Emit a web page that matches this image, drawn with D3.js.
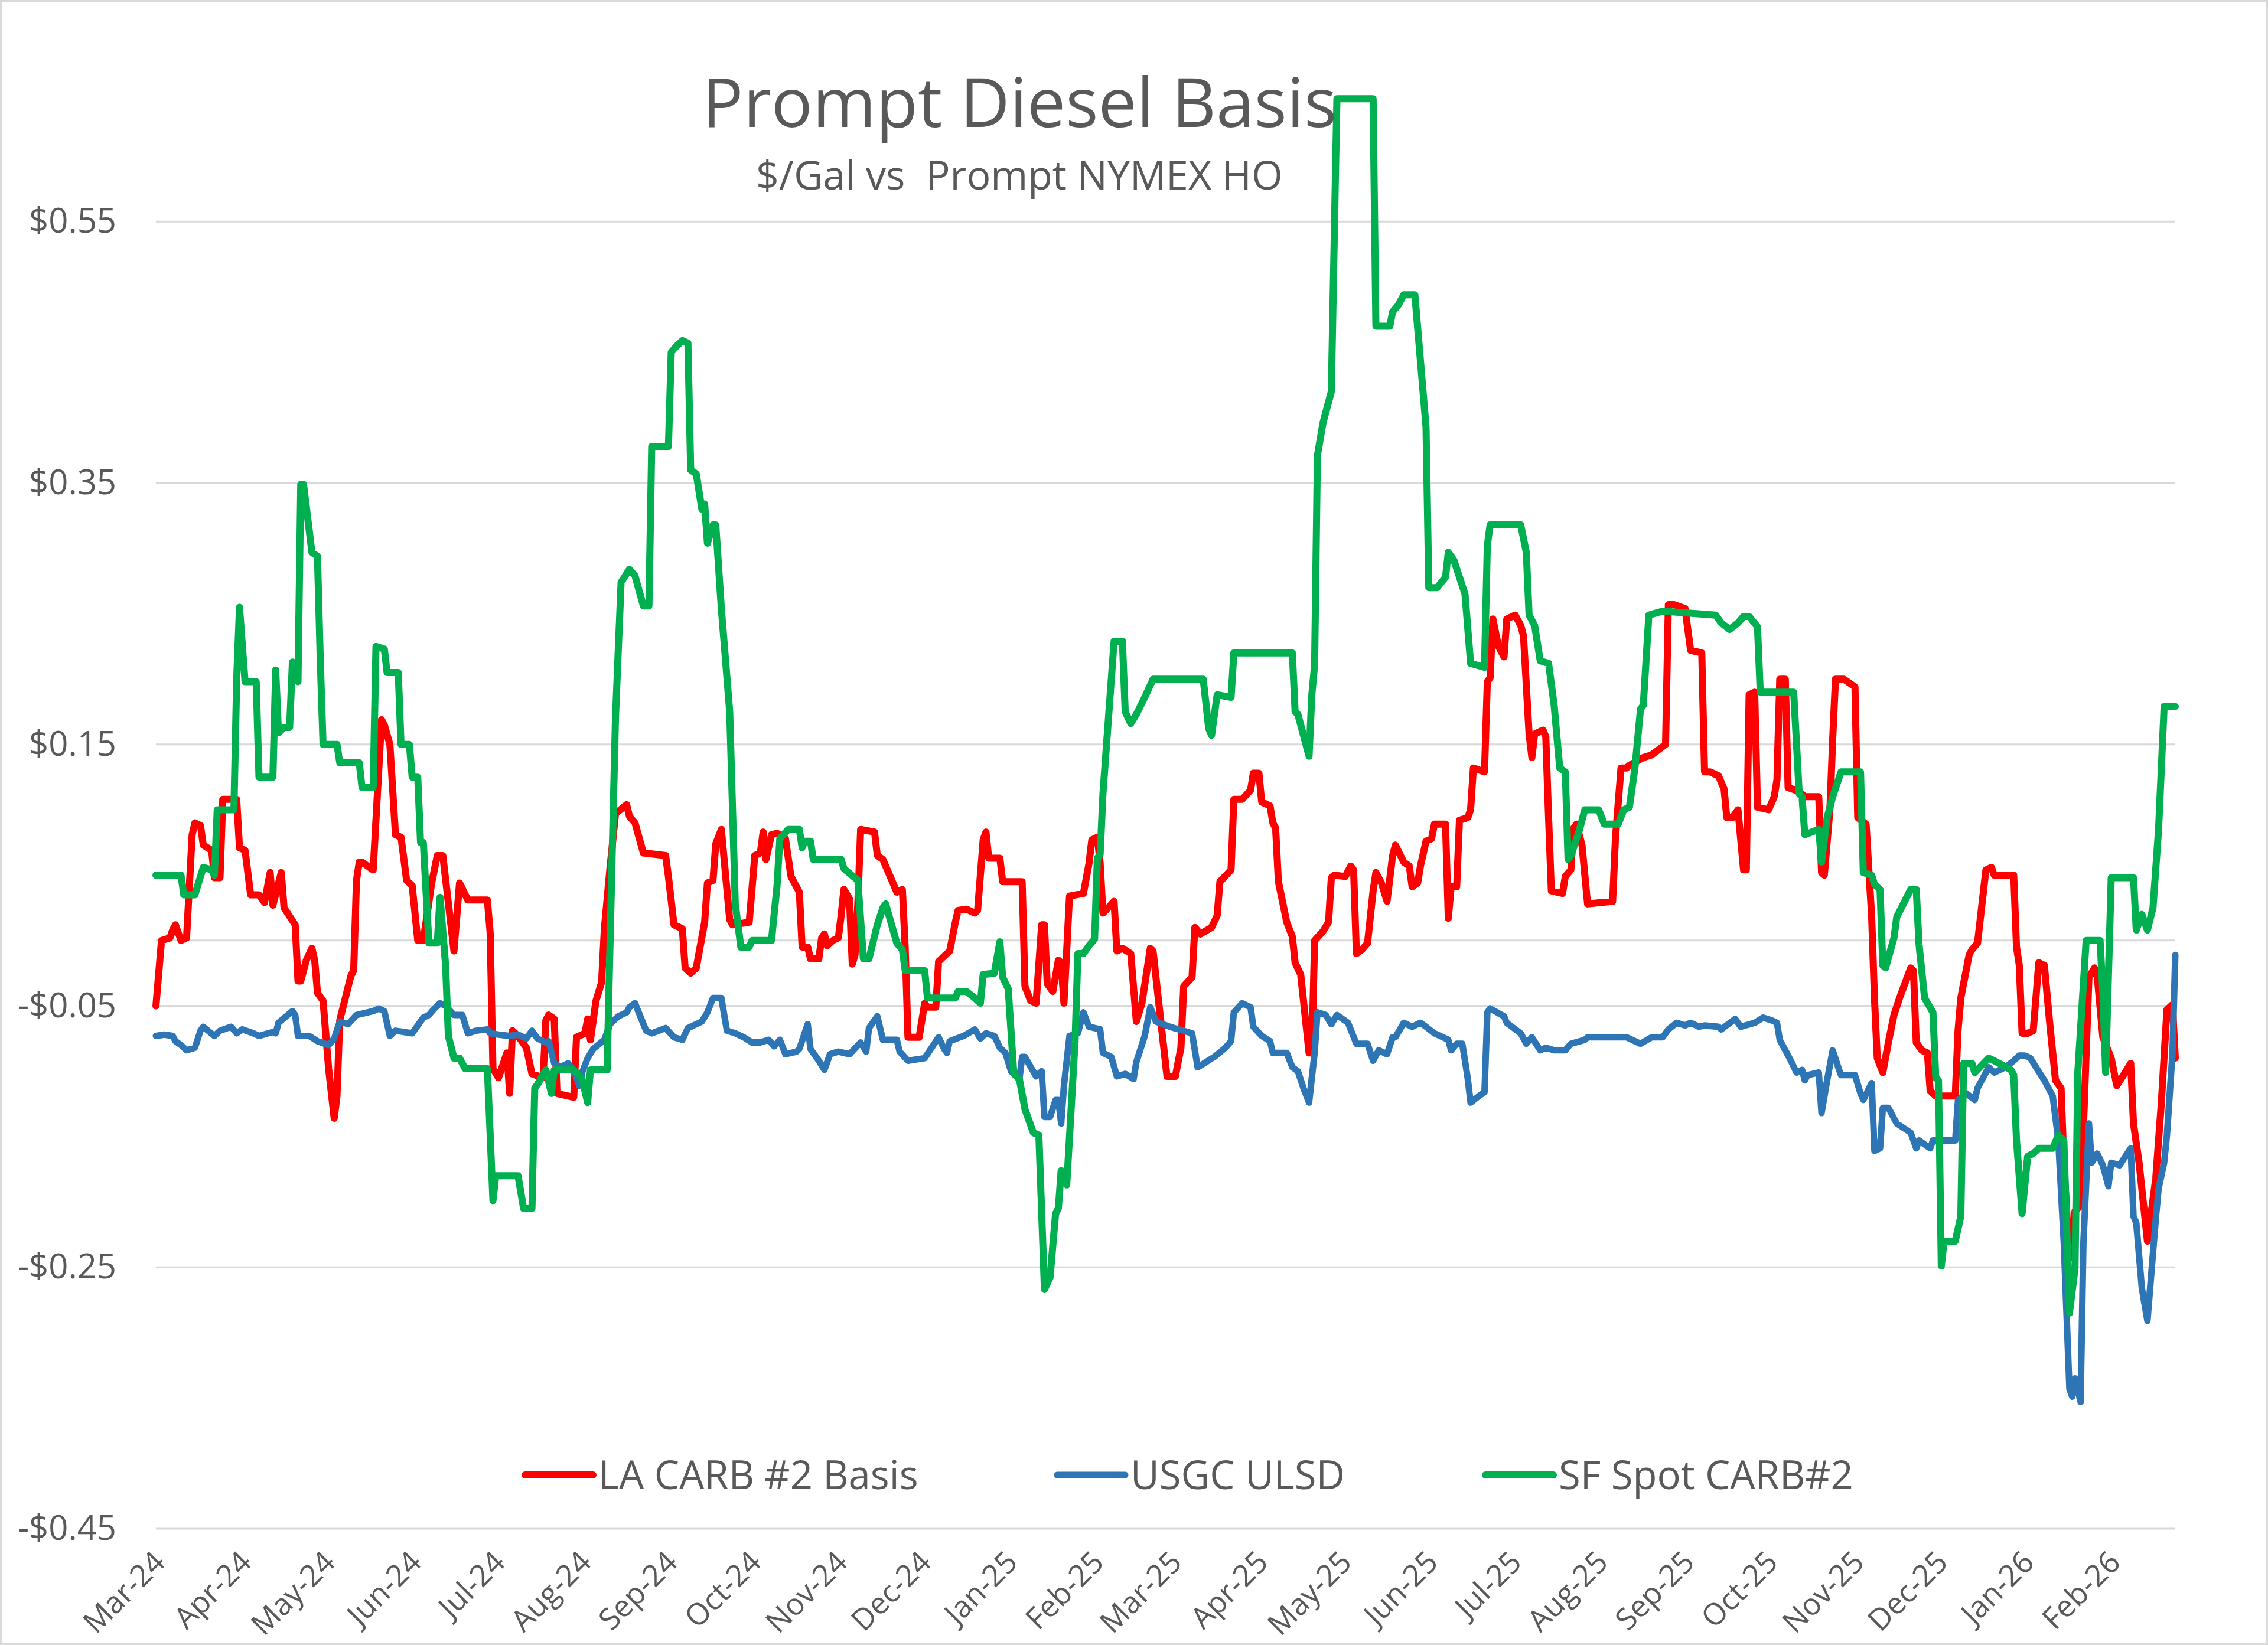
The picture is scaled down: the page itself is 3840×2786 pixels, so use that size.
<!DOCTYPE html>
<html>
<head>
<meta charset="utf-8">
<script src="https://cdn.jsdelivr.net/npm/d3@7"></script>
<style>
  body { margin: 0; background: #fff; }
  text { font-family: "Open Sans", "Noto Sans", sans-serif; fill: #595959; }
</style>
</head>
<body>
<div id="chart"></div>
<script>
// LA CARB #2 basis, $/gal vs prompt NYMEX HO
const laCarb = [
  ["2024-03-01",-0.050],["2024-03-03",0.000],["2024-03-06",0.002],["2024-03-07",0.008],["2024-03-08",0.012],
  ["2024-03-10",0.000],["2024-03-12",0.002],["2024-03-14",0.081],["2024-03-15",0.090],["2024-03-17",0.088],
  ["2024-03-18",0.073],["2024-03-21",0.069],["2024-03-22",0.048],["2024-03-24",0.048],["2024-03-25",0.108],
  ["2024-03-30",0.108],["2024-03-31",0.071],["2024-04-02",0.069],["2024-04-04",0.035],["2024-04-07",0.035],
  ["2024-04-09",0.029],["2024-04-11",0.052],["2024-04-12",0.027],["2024-04-15",0.052],["2024-04-16",0.025],
  ["2024-04-20",0.012],["2024-04-21",-0.031],["2024-04-22",-0.031],["2024-04-24",-0.015],["2024-04-26",-0.006],
  ["2024-04-27",-0.015],["2024-04-28",-0.040],["2024-04-30",-0.046],["2024-05-02",-0.098],["2024-05-04",-0.136],
  ["2024-05-05",-0.119],["2024-05-06",-0.061],["2024-05-10",-0.027],["2024-05-11",-0.023],["2024-05-12",0.046],
  ["2024-05-13",0.060],["2024-05-14",0.060],["2024-05-18",0.054],["2024-05-21",0.169],["2024-05-22",0.165],
  ["2024-05-24",0.150],["2024-05-26",0.081],["2024-05-28",0.079],["2024-05-30",0.046],["2024-06-01",0.042],
  ["2024-06-03",0.000],["2024-06-05",0.000],["2024-06-08",0.044],["2024-06-10",0.065],["2024-06-12",0.065],
  ["2024-06-16",-0.008],["2024-06-18",0.044],["2024-06-21",0.031],["2024-06-28",0.031],["2024-06-29",0.006],
  ["2024-06-30",-0.098],["2024-07-02",-0.105],["2024-07-05",-0.086],["2024-07-06",-0.117],["2024-07-07",-0.069],
  ["2024-07-09",-0.073],["2024-07-12",-0.082],["2024-07-14",-0.102],["2024-07-18",-0.105],["2024-07-19",-0.061],
  ["2024-07-20",-0.057],["2024-07-22",-0.060],["2024-07-23",-0.117],["2024-07-29",-0.120],["2024-07-30",-0.074],
  ["2024-08-02",-0.071],["2024-08-03",-0.060],["2024-08-04",-0.076],["2024-08-06",-0.046],["2024-08-08",-0.032],
  ["2024-08-09",0.009],["2024-08-11",0.055],["2024-08-13",0.097],["2024-08-17",0.104],["2024-08-18",0.095],
  ["2024-08-20",0.090],["2024-08-23",0.067],["2024-08-31",0.065],["2024-09-01",0.049],["2024-09-03",0.012],
  ["2024-09-06",0.009],["2024-09-07",-0.021],["2024-09-09",-0.025],["2024-09-11",-0.021],["2024-09-14",0.014],
  ["2024-09-15",0.044],["2024-09-17",0.046],["2024-09-18",0.074],["2024-09-20",0.085],["2024-09-23",0.016],
  ["2024-09-24",0.012],["2024-09-30",0.014],["2024-10-02",0.065],["2024-10-04",0.067],["2024-10-05",0.083],
  ["2024-10-06",0.062],["2024-10-08",0.081],["2024-10-10",0.082],["2024-10-13",0.078],["2024-10-15",0.049],
  ["2024-10-18",0.037],["2024-10-19",-0.005],["2024-10-21",-0.005],["2024-10-22",-0.014],["2024-10-25",-0.014],
  ["2024-10-26",0.002],["2024-10-27",0.005],["2024-10-28",-0.004],["2024-10-30",0.000],["2024-11-01",0.002],
  ["2024-11-02",0.019],["2024-11-03",0.039],["2024-11-05",0.032],["2024-11-06",-0.018],["2024-11-07",-0.011],
  ["2024-11-08",0.028],["2024-11-09",0.085],["2024-11-14",0.083],["2024-11-15",0.065],["2024-11-17",0.062],
  ["2024-11-22",0.037],["2024-11-24",0.039],["2024-11-25",-0.005],["2024-11-26",-0.074],["2024-11-30",-0.074],
  ["2024-12-02",-0.048],["2024-12-03",-0.051],["2024-12-06",-0.051],["2024-12-07",-0.016],["2024-12-09",-0.012],
  ["2024-12-11",-0.008],["2024-12-13",0.014],["2024-12-14",0.023],["2024-12-17",0.024],["2024-12-20",0.021],
  ["2024-12-21",0.023],["2024-12-23",0.077],["2024-12-24",0.083],["2024-12-25",0.063],["2024-12-29",0.063],
  ["2024-12-30",0.045],["2025-01-06",0.045],["2025-01-07",-0.035],["2025-01-09",-0.046],["2025-01-11",-0.048],
  ["2025-01-13",0.012],["2025-01-14",0.012],["2025-01-15",-0.033],["2025-01-17",-0.039],["2025-01-19",-0.015],
  ["2025-01-20",-0.017],["2025-01-21",-0.048],["2025-01-23",0.034],["2025-01-28",0.036],["2025-01-30",0.059],
  ["2025-01-31",0.077],["2025-02-02",0.079],["2025-02-03",0.059],["2025-02-04",0.021],["2025-02-05",0.023],
  ["2025-02-08",0.030],["2025-02-09",-0.008],["2025-02-11",-0.006],["2025-02-14",-0.010],["2025-02-16",-0.062],
  ["2025-02-18",-0.048],["2025-02-21",-0.006],["2025-02-22",-0.008],["2025-02-25",-0.066],["2025-02-27",-0.104],
  ["2025-03-02",-0.104],["2025-03-04",-0.082],["2025-03-05",-0.035],["2025-03-08",-0.028],["2025-03-09",0.010],
  ["2025-03-11",0.005],["2025-03-15",0.010],["2025-03-17",0.019],["2025-03-18",0.045],["2025-03-22",0.054],
  ["2025-03-23",0.108],["2025-03-26",0.108],["2025-03-29",0.115],["2025-03-30",0.128],["2025-04-01",0.128],
  ["2025-04-02",0.106],["2025-04-05",0.103],["2025-04-06",0.090],["2025-04-07",0.086],["2025-04-08",0.045],
  ["2025-04-11",0.014],["2025-04-13",0.003],["2025-04-14",-0.017],["2025-04-16",-0.026],["2025-04-19",-0.086],
  ["2025-04-20",-0.086],["2025-04-21",0.000],["2025-04-24",0.007],["2025-04-26",0.014],["2025-04-27",0.048],
  ["2025-04-28",0.050],["2025-05-02",0.049],["2025-05-04",0.057],["2025-05-05",0.054],["2025-05-06",-0.010],
  ["2025-05-08",-0.007],["2025-05-10",-0.002],["2025-05-12",0.038],["2025-05-13",0.052],["2025-05-15",0.044],
  ["2025-05-17",0.030],["2025-05-19",0.065],["2025-05-20",0.073],["2025-05-23",0.060],["2025-05-25",0.057],
  ["2025-05-26",0.041],["2025-05-28",0.044],["2025-05-29",0.057],["2025-05-31",0.076],["2025-06-02",0.078],
  ["2025-06-03",0.089],["2025-06-07",0.089],["2025-06-08",0.017],["2025-06-09",0.041],["2025-06-11",0.041],
  ["2025-06-12",0.092],["2025-06-15",0.094],["2025-06-16",0.100],["2025-06-17",0.132],["2025-06-21",0.129],
  ["2025-06-22",0.198],["2025-06-23",0.201],["2025-06-24",0.246],["2025-06-26",0.225],["2025-06-28",0.217],
  ["2025-06-29",0.246],["2025-07-02",0.249],["2025-07-04",0.241],["2025-07-05",0.233],["2025-07-07",0.158],
  ["2025-07-08",0.140],["2025-07-09",0.158],["2025-07-12",0.161],["2025-07-13",0.156],["2025-07-14",0.094],
  ["2025-07-15",0.038],["2025-07-19",0.036],["2025-07-20",0.049],["2025-07-22",0.054],["2025-07-23",0.086],
  ["2025-07-24",0.089],["2025-07-26",0.073],["2025-07-28",0.028],["2025-08-06",0.030],["2025-08-07",0.078],
  ["2025-08-09",0.132],["2025-08-11",0.132],["2025-08-12",0.134],["2025-08-17",0.140],["2025-08-20",0.142],
  ["2025-08-25",0.150],["2025-08-26",0.257],["2025-08-28",0.257],["2025-09-01",0.254],["2025-09-03",0.222],
  ["2025-09-07",0.220],["2025-09-08",0.129],["2025-09-10",0.129],["2025-09-13",0.126],["2025-09-15",0.116],
  ["2025-09-16",0.094],["2025-09-18",0.094],["2025-09-20",0.100],["2025-09-22",0.054],["2025-09-23",0.054],
  ["2025-09-24",0.188],["2025-09-26",0.190],["2025-09-27",0.102],["2025-10-01",0.100],["2025-10-03",0.110],
  ["2025-10-04",0.123],["2025-10-05",0.200],["2025-10-07",0.200],["2025-10-08",0.117],["2025-10-12",0.114],
  ["2025-10-14",0.110],["2025-10-19",0.110],["2025-10-20",0.052],["2025-10-21",0.050],["2025-10-23",0.100],
  ["2025-10-24",0.154],["2025-10-25",0.200],["2025-10-28",0.200],["2025-11-01",0.194],["2025-11-02",0.094],
  ["2025-11-05",0.089],["2025-11-07",0.018],["2025-11-08",-0.044],["2025-11-09",-0.090],["2025-11-11",-0.101],
  ["2025-11-13",-0.078],["2025-11-15",-0.057],["2025-11-17",-0.044],["2025-11-21",-0.021],["2025-11-22",-0.023],
  ["2025-11-23",-0.078],["2025-11-25",-0.084],["2025-11-27",-0.086],["2025-11-28",-0.115],["2025-11-30",-0.119],
  ["2025-12-07",-0.119],["2025-12-08",-0.069],["2025-12-09",-0.044],["2025-12-12",-0.011],["2025-12-13",-0.007],
  ["2025-12-15",-0.002],["2025-12-18",0.054],["2025-12-20",0.056],["2025-12-21",0.050],["2025-12-28",0.050],
  ["2025-12-29",-0.005],["2025-12-30",-0.019],["2025-12-31",-0.071],["2026-01-02",-0.071],["2026-01-04",-0.069],
  ["2026-01-06",-0.017],["2026-01-08",-0.019],["2026-01-10",-0.065],["2026-01-12",-0.107],["2026-01-14",-0.113],
  ["2026-01-15",-0.170],["2026-01-17",-0.243],["2026-01-19",-0.207],["2026-01-21",-0.203],["2026-01-24",-0.028],
  ["2026-01-26",-0.021],["2026-01-27",-0.028],["2026-01-29",-0.074],["2026-02-01",-0.090],["2026-02-03",-0.111],
  ["2026-02-06",-0.101],["2026-02-08",-0.094],["2026-02-09",-0.140],["2026-02-11",-0.170],["2026-02-14",-0.230],
  ["2026-02-17",-0.182],["2026-02-19",-0.124],["2026-02-21",-0.053],["2026-02-23",-0.049],["2026-02-24",-0.090]
];

// USGC ULSD basis
const usgcUlsd = [
  ["2024-03-01",-0.073],["2024-03-04",-0.072],["2024-03-07",-0.073],["2024-03-08",-0.077],["2024-03-10",-0.080],
  ["2024-03-12",-0.084],["2024-03-15",-0.082],["2024-03-17",-0.069],["2024-03-18",-0.066],["2024-03-22",-0.073],
  ["2024-03-24",-0.069],["2024-03-28",-0.066],["2024-03-30",-0.071],["2024-04-01",-0.068],["2024-04-05",-0.071],
  ["2024-04-07",-0.073],["2024-04-12",-0.070],["2024-04-13",-0.071],["2024-04-14",-0.063],["2024-04-19",-0.054],
  ["2024-04-20",-0.057],["2024-04-21",-0.073],["2024-04-25",-0.073],["2024-04-28",-0.077],["2024-05-02",-0.080],
  ["2024-05-04",-0.075],["2024-05-06",-0.062],["2024-05-09",-0.064],["2024-05-12",-0.057],["2024-05-18",-0.054],
  ["2024-05-20",-0.052],["2024-05-22",-0.054],["2024-05-24",-0.073],["2024-05-26",-0.069],["2024-06-01",-0.071],
  ["2024-06-03",-0.065],["2024-06-05",-0.059],["2024-06-07",-0.057],["2024-06-09",-0.052],["2024-06-11",-0.048],
  ["2024-06-13",-0.050],["2024-06-16",-0.057],["2024-06-19",-0.057],["2024-06-21",-0.071],["2024-06-24",-0.069],
  ["2024-06-28",-0.068],["2024-06-29",-0.071],["2024-07-02",-0.072],["2024-07-06",-0.073],["2024-07-09",-0.072],
  ["2024-07-12",-0.075],["2024-07-14",-0.069],["2024-07-16",-0.075],["2024-07-19",-0.078],["2024-07-20",-0.077],
  ["2024-07-22",-0.094],["2024-07-24",-0.097],["2024-07-27",-0.094],["2024-07-29",-0.099],["2024-07-31",-0.111],
  ["2024-08-01",-0.101],["2024-08-03",-0.090],["2024-08-05",-0.083],["2024-08-09",-0.076],["2024-08-11",-0.064],
  ["2024-08-14",-0.058],["2024-08-17",-0.055],["2024-08-18",-0.051],["2024-08-20",-0.048],["2024-08-24",-0.069],
  ["2024-08-26",-0.071],["2024-08-31",-0.067],["2024-09-03",-0.074],["2024-09-06",-0.076],["2024-09-08",-0.067],
  ["2024-09-13",-0.062],["2024-09-15",-0.055],["2024-09-17",-0.044],["2024-09-20",-0.044],["2024-09-22",-0.069],
  ["2024-09-25",-0.071],["2024-09-28",-0.074],["2024-10-01",-0.078],["2024-10-04",-0.078],["2024-10-07",-0.076],
  ["2024-10-09",-0.081],["2024-10-11",-0.076],["2024-10-13",-0.087],["2024-10-17",-0.085],["2024-10-18",-0.083],
  ["2024-10-21",-0.064],["2024-10-22",-0.083],["2024-10-25",-0.092],["2024-10-27",-0.099],["2024-10-29",-0.087],
  ["2024-11-01",-0.085],["2024-11-05",-0.087],["2024-11-09",-0.078],["2024-11-11",-0.085],["2024-11-12",-0.067],
  ["2024-11-15",-0.058],["2024-11-17",-0.076],["2024-11-22",-0.076],["2024-11-23",-0.085],["2024-11-26",-0.092],
  ["2024-12-02",-0.090],["2024-12-07",-0.074],["2024-12-09",-0.083],["2024-12-10",-0.086],["2024-12-11",-0.077],
  ["2024-12-16",-0.073],["2024-12-20",-0.068],["2024-12-22",-0.075],["2024-12-24",-0.071],["2024-12-27",-0.073],
  ["2024-12-29",-0.082],["2024-12-31",-0.086],["2025-01-02",-0.100],["2025-01-05",-0.106],["2025-01-06",-0.089],
  ["2025-01-07",-0.089],["2025-01-11",-0.104],["2025-01-13",-0.100],["2025-01-14",-0.135],["2025-01-16",-0.135],
  ["2025-01-18",-0.122],["2025-01-19",-0.122],["2025-01-20",-0.140],["2025-01-21",-0.111],["2025-01-23",-0.073],
  ["2025-01-26",-0.071],["2025-01-28",-0.055],["2025-01-30",-0.066],["2025-02-03",-0.068],["2025-02-04",-0.086],
  ["2025-02-07",-0.089],["2025-02-09",-0.104],["2025-02-12",-0.102],["2025-02-15",-0.106],["2025-02-16",-0.093],
  ["2025-02-19",-0.073],["2025-02-21",-0.051],["2025-02-23",-0.062],["2025-02-28",-0.066],["2025-03-08",-0.071],
  ["2025-03-10",-0.097],["2025-03-13",-0.093],["2025-03-16",-0.089],["2025-03-20",-0.082],["2025-03-22",-0.077],
  ["2025-03-23",-0.055],["2025-03-26",-0.048],["2025-03-29",-0.051],["2025-03-30",-0.066],["2025-04-02",-0.073],
  ["2025-04-05",-0.077],["2025-04-06",-0.086],["2025-04-11",-0.086],["2025-04-13",-0.097],["2025-04-15",-0.100],
  ["2025-04-17",-0.113],["2025-04-19",-0.124],["2025-04-21",-0.086],["2025-04-22",-0.055],["2025-04-25",-0.057],
  ["2025-04-27",-0.064],["2025-04-29",-0.057],["2025-05-03",-0.063],["2025-05-06",-0.079],["2025-05-10",-0.079],
  ["2025-05-12",-0.092],["2025-05-14",-0.084],["2025-05-17",-0.087],["2025-05-19",-0.074],["2025-05-20",-0.074],
  ["2025-05-23",-0.063],["2025-05-26",-0.066],["2025-05-29",-0.063],["2025-05-31",-0.066],["2025-06-03",-0.071],
  ["2025-06-08",-0.076],["2025-06-09",-0.084],["2025-06-11",-0.079],["2025-06-13",-0.079],["2025-06-14",-0.092],
  ["2025-06-15",-0.106],["2025-06-16",-0.124],["2025-06-19",-0.119],["2025-06-21",-0.116],["2025-06-22",-0.055],
  ["2025-06-23",-0.052],["2025-06-28",-0.058],["2025-06-29",-0.063],["2025-07-04",-0.071],["2025-07-06",-0.079],
  ["2025-07-08",-0.074],["2025-07-11",-0.084],["2025-07-13",-0.082],["2025-07-16",-0.084],["2025-07-20",-0.084],
  ["2025-07-22",-0.079],["2025-07-27",-0.076],["2025-07-28",-0.074],["2025-08-05",-0.074],["2025-08-11",-0.074],
  ["2025-08-16",-0.079],["2025-08-20",-0.074],["2025-08-24",-0.074],["2025-08-26",-0.068],["2025-08-29",-0.063],
  ["2025-09-01",-0.065],["2025-09-03",-0.063],["2025-09-06",-0.066],["2025-09-08",-0.065],["2025-09-13",-0.066],
  ["2025-09-14",-0.068],["2025-09-19",-0.060],["2025-09-21",-0.066],["2025-09-26",-0.063],["2025-09-29",-0.059],
  ["2025-10-02",-0.061],["2025-10-04",-0.063],["2025-10-05",-0.076],["2025-10-07",-0.084],["2025-10-09",-0.092],
  ["2025-10-11",-0.101],["2025-10-13",-0.099],["2025-10-14",-0.107],["2025-10-15",-0.103],["2025-10-19",-0.101],
  ["2025-10-20",-0.132],["2025-10-22",-0.107],["2025-10-24",-0.084],["2025-10-26",-0.097],["2025-10-27",-0.103],
  ["2025-11-01",-0.103],["2025-11-03",-0.117],["2025-11-04",-0.122],["2025-11-07",-0.109],["2025-11-08",-0.161],
  ["2025-11-10",-0.159],["2025-11-11",-0.128],["2025-11-13",-0.128],["2025-11-16",-0.140],["2025-11-21",-0.147],
  ["2025-11-23",-0.159],["2025-11-24",-0.153],["2025-11-28",-0.159],["2025-11-29",-0.153],["2025-12-07",-0.153],
  ["2025-12-08",-0.122],["2025-12-11",-0.117],["2025-12-14",-0.122],["2025-12-15",-0.113],["2025-12-19",-0.097],
  ["2025-12-21",-0.101],["2025-12-25",-0.097],["2025-12-28",-0.092],["2025-12-30",-0.088],["2026-01-01",-0.088],
  ["2026-01-03",-0.090],["2026-01-05",-0.097],["2026-01-08",-0.107],["2026-01-11",-0.119],["2026-01-13",-0.153],
  ["2026-01-15",-0.232],["2026-01-17",-0.343],["2026-01-18",-0.349],["2026-01-19",-0.335],["2026-01-21",-0.353],
  ["2026-01-22",-0.232],["2026-01-24",-0.140],["2026-01-25",-0.170],["2026-01-27",-0.163],["2026-01-29",-0.172],
  ["2026-01-31",-0.188],["2026-02-01",-0.170],["2026-02-04",-0.172],["2026-02-08",-0.159],["2026-02-09",-0.211],
  ["2026-02-10",-0.216],["2026-02-12",-0.266],["2026-02-14",-0.291],["2026-02-17",-0.213],["2026-02-18",-0.190],
  ["2026-02-20",-0.170],["2026-02-21",-0.149],["2026-02-23",-0.086],["2026-02-24",-0.011]
];

// SF spot CARB #2 basis
const sfCarb = [
  ["2024-03-01",0.050],["2024-03-10",0.050],["2024-03-11",0.035],["2024-03-15",0.035],["2024-03-18",0.056],
  ["2024-03-21",0.054],["2024-03-22",0.050],["2024-03-23",0.100],["2024-03-29",0.100],["2024-03-30",0.200],
  ["2024-03-31",0.255],["2024-04-02",0.198],["2024-04-06",0.198],["2024-04-07",0.125],["2024-04-12",0.125],
  ["2024-04-13",0.207],["2024-04-14",0.159],["2024-04-16",0.163],["2024-04-18",0.163],["2024-04-19",0.213],
  ["2024-04-21",0.198],["2024-04-22",0.349],["2024-04-23",0.349],["2024-04-26",0.297],["2024-04-28",0.294],
  ["2024-04-29",0.215],["2024-04-30",0.150],["2024-05-05",0.150],["2024-05-06",0.136],["2024-05-13",0.136],
  ["2024-05-14",0.117],["2024-05-18",0.117],["2024-05-19",0.225],["2024-05-22",0.223],["2024-05-23",0.205],
  ["2024-05-27",0.205],["2024-05-28",0.150],["2024-05-31",0.150],["2024-06-01",0.125],["2024-06-03",0.125],
  ["2024-06-04",0.075],["2024-06-05",0.075],["2024-06-07",-0.002],["2024-06-10",-0.002],["2024-06-11",0.033],
  ["2024-06-13",-0.019],["2024-06-14",-0.073],["2024-06-16",-0.090],["2024-06-18",-0.090],["2024-06-20",-0.098],
  ["2024-06-28",-0.098],["2024-06-30",-0.199],["2024-07-01",-0.180],["2024-07-09",-0.180],["2024-07-11",-0.205],
  ["2024-07-14",-0.205],["2024-07-15",-0.113],["2024-07-16",-0.110],["2024-07-19",-0.099],["2024-07-21",-0.117],
  ["2024-07-22",-0.099],["2024-07-29",-0.099],["2024-08-01",-0.106],["2024-08-03",-0.124],["2024-08-04",-0.099],
  ["2024-08-10",-0.099],["2024-08-11",-0.005],["2024-08-13",0.171],["2024-08-15",0.274],["2024-08-18",0.284],
  ["2024-08-20",0.279],["2024-08-23",0.256],["2024-08-25",0.256],["2024-08-26",0.378],["2024-09-01",0.378],
  ["2024-09-02",0.450],["2024-09-04",0.455],["2024-09-06",0.459],["2024-09-08",0.457],["2024-09-09",0.360],
  ["2024-09-11",0.357],["2024-09-13",0.330],["2024-09-14",0.334],["2024-09-15",0.304],["2024-09-17",0.318],
  ["2024-09-18",0.318],["2024-09-20",0.254],["2024-09-23",0.175],["2024-09-25",0.028],["2024-09-27",-0.005],
  ["2024-09-30",-0.005],["2024-10-01",0.000],["2024-10-08",0.000],["2024-10-10",0.042],["2024-10-11",0.078],
  ["2024-10-14",0.085],["2024-10-18",0.085],["2024-10-19",0.071],["2024-10-20",0.076],["2024-10-22",0.076],
  ["2024-10-23",0.062],["2024-11-02",0.062],["2024-11-03",0.055],["2024-11-08",0.046],["2024-11-10",-0.014],
  ["2024-11-12",-0.014],["2024-11-15",0.012],["2024-11-17",0.025],["2024-11-18",0.028],["2024-11-22",-0.002],
  ["2024-11-24",-0.007],["2024-11-25",-0.023],["2024-12-02",-0.023],["2024-12-03",-0.044],["2024-12-13",-0.044],
  ["2024-12-14",-0.039],["2024-12-17",-0.039],["2024-12-20",-0.044],["2024-12-22",-0.048],["2024-12-23",-0.026],
  ["2024-12-27",-0.025],["2024-12-29",-0.001],["2024-12-30",-0.028],["2025-01-01",-0.037],["2025-01-03",-0.102],
  ["2025-01-05",-0.106],["2025-01-07",-0.129],["2025-01-10",-0.147],["2025-01-12",-0.149],["2025-01-14",-0.267],
  ["2025-01-16",-0.258],["2025-01-18",-0.209],["2025-01-19",-0.205],["2025-01-20",-0.176],["2025-01-22",-0.187],
  ["2025-01-25",-0.077],["2025-01-26",-0.010],["2025-01-28",-0.010],["2025-01-30",-0.004],["2025-02-01",0.001],
  ["2025-02-02",0.063],["2025-02-03",0.066],["2025-02-04",0.112],["2025-02-08",0.229],["2025-02-11",0.229],
  ["2025-02-12",0.175],["2025-02-14",0.166],["2025-02-16",0.173],["2025-02-19",0.186],["2025-02-22",0.200],
  ["2025-03-12",0.200],["2025-03-14",0.162],["2025-03-15",0.157],["2025-03-17",0.188],["2025-03-22",0.186],
  ["2025-03-23",0.220],["2025-04-13",0.220],["2025-04-14",0.175],["2025-04-15",0.173],["2025-04-19",0.141],
  ["2025-04-20",0.188],["2025-04-21",0.211],["2025-04-22",0.371],["2025-04-24",0.396],["2025-04-27",0.420],
  ["2025-04-29",0.644],["2025-05-12",0.644],["2025-05-13",0.470],["2025-05-18",0.470],["2025-05-19",0.481],
  ["2025-05-21",0.486],["2025-05-23",0.494],["2025-05-27",0.494],["2025-05-31",0.393],["2025-06-01",0.270],
  ["2025-06-04",0.270],["2025-06-07",0.278],["2025-06-08",0.297],["2025-06-10",0.291],["2025-06-14",0.265],
  ["2025-06-16",0.212],["2025-06-21",0.209],["2025-06-22",0.302],["2025-06-23",0.318],["2025-07-04",0.318],
  ["2025-07-06",0.297],["2025-07-07",0.249],["2025-07-09",0.241],["2025-07-11",0.214],["2025-07-14",0.212],
  ["2025-07-16",0.180],["2025-07-18",0.132],["2025-07-20",0.129],["2025-07-21",0.062],["2025-07-22",0.065],
  ["2025-07-25",0.084],["2025-07-27",0.100],["2025-08-01",0.100],["2025-08-03",0.089],["2025-08-08",0.089],
  ["2025-08-10",0.100],["2025-08-12",0.102],["2025-08-14",0.132],["2025-08-16",0.177],["2025-08-17",0.180],
  ["2025-08-19",0.249],["2025-08-24",0.252],["2025-09-12",0.249],["2025-09-14",0.243],["2025-09-17",0.238],
  ["2025-09-20",0.243],["2025-09-22",0.248],["2025-09-24",0.248],["2025-09-27",0.240],["2025-09-28",0.190],
  ["2025-10-10",0.190],["2025-10-12",0.112],["2025-10-13",0.110],["2025-10-14",0.081],["2025-10-19",0.085],
  ["2025-10-20",0.060],["2025-10-22",0.094],["2025-10-24",0.110],["2025-10-27",0.129],["2025-11-03",0.129],
  ["2025-11-04",0.052],["2025-11-07",0.050],["2025-11-08",0.043],["2025-11-10",0.039],["2025-11-11",-0.019],
  ["2025-11-12",-0.021],["2025-11-15",0.002],["2025-11-16",0.018],["2025-11-21",0.039],["2025-11-23",0.039],
  ["2025-11-24",-0.003],["2025-11-26",-0.044],["2025-11-29",-0.055],["2025-11-30",-0.105],["2025-12-01",-0.107],
  ["2025-12-02",-0.249],["2025-12-03",-0.230],["2025-12-07",-0.230],["2025-12-09",-0.211],["2025-12-10",-0.094],
  ["2025-12-13",-0.094],["2025-12-14",-0.101],["2025-12-19",-0.090],["2025-12-21",-0.092],["2025-12-27",-0.099],
  ["2025-12-28",-0.103],["2025-12-29",-0.153],["2025-12-31",-0.209],["2026-01-02",-0.165],["2026-01-04",-0.163],
  ["2026-01-06",-0.159],["2026-01-11",-0.159],["2026-01-13",-0.149],["2026-01-15",-0.153],["2026-01-17",-0.285],
  ["2026-01-19",-0.251],["2026-01-20",-0.101],["2026-01-23",0.000],["2026-01-28",0.000],["2026-01-29",-0.040],
  ["2026-01-30",-0.101],["2026-02-01",0.048],["2026-02-09",0.048],["2026-02-10",0.008],["2026-02-12",0.020],
  ["2026-02-14",0.008],["2026-02-16",0.025],["2026-02-18",0.085],["2026-02-20",0.179],["2026-02-24",0.179]
];

const seriesNames = ["LA CARB #2 Basis", "USGC ULSD", "SF Spot CARB#2"];
const yTickValues = [-0.45, -0.25, -0.05, 0.15, 0.35, 0.55];
const dateRange = ["2024-03-01", "2026-02-24"];
const titleText = "Prompt Diesel Basis";
const subtitleText = "$/Gal vs  Prompt NYMEX HO";

const colors = ["#ff0000", "#2e75b6", "#00b050"];
const widths = [12, 11, 12];

const W = 3840, H = 2786;
const plot = { left: 264, right: 3683, top: 154, bottom: 2589 };
const parse = d3.timeParse("%Y-%m-%d");

const svg = d3.select("#chart").append("svg")
  .attr("width", W).attr("height", H)
  .attr("viewBox", [0, 0, W, H]);

svg.append("rect")
  .attr("x", 2).attr("y", 2).attr("width", W - 4).attr("height", H - 4)
  .attr("fill", "#fff").attr("stroke", "#d9d9d9").attr("stroke-width", 4);

const x = d3.scaleTime()
  .domain(dateRange.map(parse))
  .range([plot.left, plot.right]);

const y = d3.scaleLinear()
  .domain([-0.45, 0.65])
  .range([plot.bottom, plot.top]);

const fmtMoney = v => (v < 0 ? "-" : "") + "$" + Math.abs(v).toFixed(2);

// gridlines + the zero line where the date axis crosses
svg.append("g").selectAll("line")
  .data(yTickValues.concat([0]))
  .join("line")
  .attr("x1", plot.left).attr("x2", plot.right)
  .attr("y1", d => y(d)).attr("y2", d => y(d))
  .attr("stroke", "#d9d9d9").attr("stroke-width", 3);

// y axis labels
const yAxis = d3.axisLeft(y).tickValues(yTickValues).tickFormat(fmtMoney).tickSize(0).tickPadding(0);
const yg = svg.append("g").attr("transform", `translate(${plot.left - 67},0)`).call(yAxis);
yg.select(".domain").remove();
yg.selectAll("text")
  .attr("font-size", 58)
  .style("font-family", '"Open Sans", sans-serif')
  .attr("fill", "#595959");

// x axis labels (rotated month ticks)
const months = d3.timeMonth.range(parse(dateRange[0]), d3.timeDay.offset(parse(dateRange[1]), 1));
const xAxis = d3.axisBottom(x).tickValues(months).tickFormat(d3.timeFormat("%b-%y")).tickSize(0).tickPadding(0);
const xg = svg.append("g").attr("transform", `translate(0,${plot.bottom})`).call(xAxis);
xg.select(".domain").remove();
xg.selectAll("text")
  .attr("font-size", 51)
  .style("font-family", '"Open Sans", sans-serif')
  .attr("fill", "#595959")
  .attr("text-anchor", "end")
  .attr("dy", null)
  .attr("y", null)
  .attr("transform", "translate(18,60) rotate(-45)");

// series lines
const line = d3.line()
  .x(d => x(parse(d[0])))
  .y(d => y(d[1]));

const allSeries = [laCarb, usgcUlsd, sfCarb];
svg.append("g").selectAll("path")
  .data(allSeries)
  .join("path")
  .attr("d", line)
  .attr("fill", "none")
  .attr("stroke", (d, i) => colors[i])
  .attr("stroke-width", (d, i) => widths[i])
  .attr("stroke-linejoin", "round")
  .attr("stroke-linecap", "round");

// title
svg.append("text")
  .attr("x", 1726).attr("y", 215)
  .attr("text-anchor", "middle")
  .attr("font-size", 116)
  .text(titleText);

svg.append("text")
  .attr("x", 1726).attr("y", 321)
  .attr("text-anchor", "middle")
  .attr("font-size", 68)
  .style("white-space", "pre")
  .text(subtitleText);

// legend
const legendX = [889, 1790, 2515];
const legendY = 2498;
const lg = svg.append("g").selectAll("g")
  .data(seriesNames)
  .join("g")
  .attr("transform", (d, i) => `translate(${legendX[i]},${legendY})`);
lg.append("line")
  .attr("x1", 0).attr("x2", 115).attr("y1", 0).attr("y2", 0)
  .attr("stroke", (d, i) => colors[i])
  .attr("stroke-width", (d, i) => widths[i])
  .attr("stroke-linecap", "round");
lg.append("text")
  .attr("x", 124).attr("y", 24)
  .attr("font-size", 67)
  .text(d => d);
</script>
</body>
</html>
